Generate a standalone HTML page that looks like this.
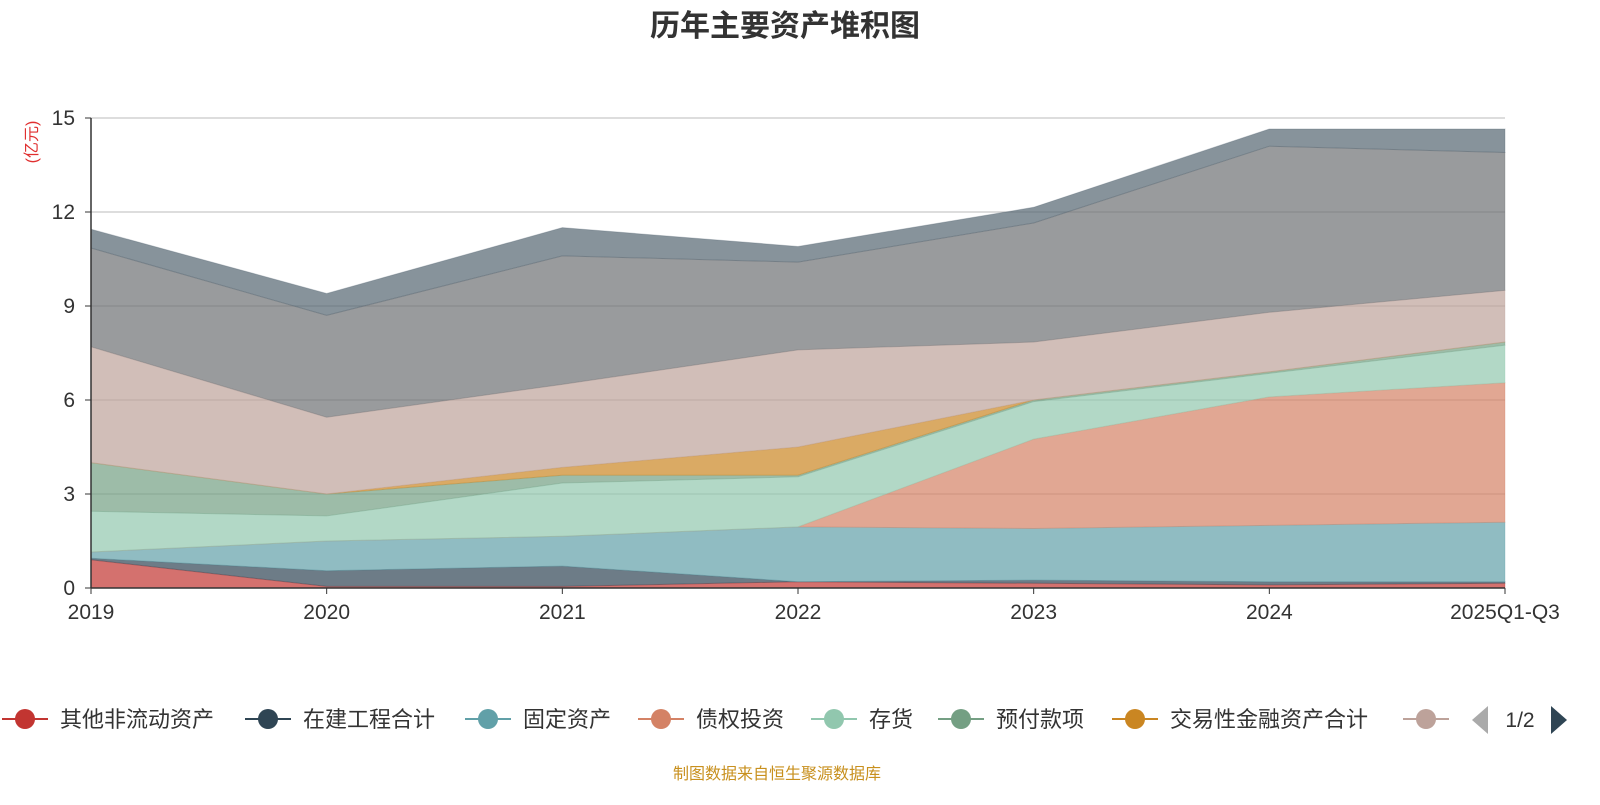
<!DOCTYPE html>
<html><head><meta charset="utf-8"><style>
body{margin:0;background:#fff;width:1600px;height:800px;overflow:hidden;font-family:"Liberation Sans","Noto Sans CJK SC",sans-serif}
</style></head><body>
<svg id="chart" width="1600" height="800" xmlns="http://www.w3.org/2000/svg">
<text x="785" y="36" text-anchor="middle" font-size="30" font-weight="bold" fill="#333" font-family="Liberation Sans,Noto Sans CJK SC,sans-serif">历年主要资产堆积图</text>
<text transform="translate(37,142) rotate(-90)" text-anchor="middle" font-size="16" fill="#e03030" font-family="Liberation Sans,Noto Sans CJK SC,sans-serif">(亿元)</text>
<g id="grid"></g><g id="areas"></g><g id="axes"></g><g id="legend"></g>
<text x="777" y="779" text-anchor="middle" font-size="16" fill="#c8901e" font-family="Liberation Sans,Noto Sans CJK SC,sans-serif">制图数据来自恒生聚源数据库</text>
</svg>
<script>
const categories=["2019","2020","2021","2022","2023","2024","2025Q1-Q3"];
const seriesNames=["其他非流动资产","在建工程合计","固定资产","债权投资","存货","预付款项","交易性金融资产合计","货币资金","应收账款","其他"];
const colors=["#c23531","#2f4554","#61a0a8","#d48265","#91c7ae","#749f83","#ca8622","#bda29a","#6e7074","#546570"];
const s0=[0.9,0.05,0.05,0.2,0.15,0.1,0.15];
const s1=[0.05,0.5,0.65,0,0.1,0.1,0.05];
const s2=[0.2,0.95,0.95,1.75,1.65,1.8,1.9];
const s3=[0,0,0,0,2.85,4.1,4.45];
const s4=[1.3,0.8,1.7,1.6,1.2,0.75,1.2];
const s5=[1.55,0.7,0.25,0.05,0.05,0.05,0.1];
const s6=[0,0,0.25,0.9,0,0,0];
const s7=[3.7,2.45,2.65,3.1,1.85,1.9,1.65];
const s8=[3.15,3.25,4.1,2.8,3.8,5.3,4.4];
const s9=[0.6,0.7,0.9,0.5,0.5,0.55,0.75];
const series=[s0,s1,s2,s3,s4,s5,s6,s7,s8,s9];
const yTicks=[0,3,6,9,12,15];
const NS="http://www.w3.org/2000/svg";
const x0=91,x1=1505,yb=588,yt=118,ymax=15;
const xs=i=>x0+i*(x1-x0)/(categories.length-1);
const ys=v=>yb-v/ymax*(yb-yt);
function mk(t,a,p){const e=document.createElementNS(NS,t);for(const k in a)e.setAttribute(k,a[k]);p.appendChild(e);return e;}
const grid=document.getElementById('grid'),axes=document.getElementById('axes'),areas=document.getElementById('areas'),leg=document.getElementById('legend');
yTicks.forEach(v=>{
 if(v>0){const l=mk('line',{x1:x0,x2:x1,y1:ys(v),y2:ys(v),stroke:'#bbb','stroke-width':1},grid);
 
 }
 const t=mk('text',{x:x0-16,y:ys(v)+7,'text-anchor':'end','font-size':21,fill:'#333'},axes);t.textContent=v;
 
 
 mk('line',{x1:x0-6,x2:x0,y1:ys(v),y2:ys(v),stroke:'#333'},axes);
});
let cum=categories.map(()=>0);
series.forEach((s,k)=>{
 const lo=cum.slice();const hi=cum.map((c,i)=>c+s[i]);cum=hi;
 let d='M'+hi.map((v,i)=>xs(i)+','+ys(v)).join('L');
 for(let i=lo.length-1;i>=0;i--)d+='L'+xs(i)+','+ys(lo[i]);
 const p=mk('path',{d:d+'Z',fill:colors[k],'fill-opacity':0.7,stroke:colors[k],'stroke-opacity':0.3,'stroke-width':1},areas);
 
 
});
mk('line',{x1:x0,x2:x0,y1:yt,y2:yb,stroke:'#333','stroke-width':1.5},axes);
mk('line',{x1:x0,x2:x1,y1:yb,y2:yb,stroke:'#333','stroke-width':1.5},axes);
categories.forEach((c,i)=>{
 mk('line',{x1:xs(i),x2:xs(i),y1:yb,y2:yb+6,stroke:'#333'},axes);
 const t=mk('text',{x:xs(i),y:yb+31,'text-anchor':'middle','font-size':21,fill:'#333'},axes);t.textContent=c;
 
 
});
const lx=[2,245,465,638,811,938,1112,1403];
for(let k=0;k<8;k++){
 const g=mk('g',{},leg);
 
 
 mk('line',{x1:lx[k],x2:lx[k]+46,y1:719,y2:719,stroke:colors[k],'stroke-width':2},g);
 mk('circle',{cx:lx[k]+23,cy:719,r:10,fill:colors[k]},g);
 if(k<7){const t=mk('text',{x:lx[k]+58,y:727,'font-size':22,fill:'#333'},g);t.textContent=seriesNames[k];}
}
mk('polygon',{points:'1488,706 1488,734 1472,720',fill:'#aaa'},leg);
const pt=mk('text',{x:1520,y:727,'text-anchor':'middle','font-size':21,fill:'#333'},leg);pt.textContent='1/2';
const nb=mk('polygon',{points:'1551,706 1551,734 1567,720',fill:'#2f4554'},leg);


</script>
</body></html>
